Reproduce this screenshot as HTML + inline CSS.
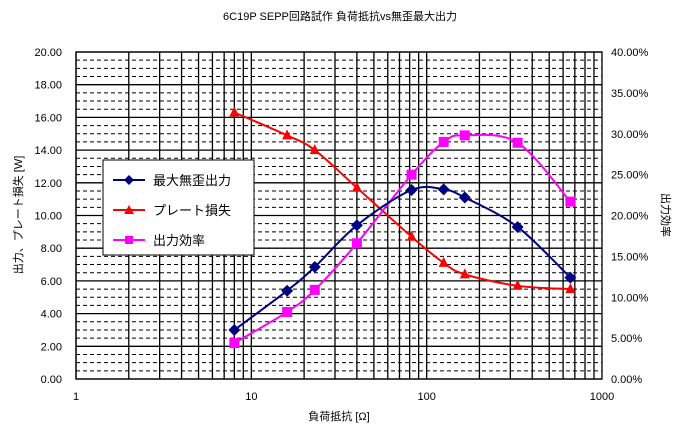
<!DOCTYPE html>
<html><head><meta charset="utf-8"><style>
body{margin:0;background:#fff;}
svg text{font-family:"Liberation Sans","Noto Sans CJK JP",sans-serif;font-size:11px;fill:#000;}
</style></head><body>
<svg id="chart" width="681" height="435">
<text x="340" y="20" text-anchor="middle">6C19P  SEPP回路試作  負荷抵抗vs無歪最大出力</text>
<g id="grid"></g>
<g id="axes"></g>
<g id="series"></g>
<text transform="translate(22,215) rotate(-90)" text-anchor="middle">出力、プレート損失 [W]</text>
<text transform="translate(662,215) rotate(90)" text-anchor="middle">出力効率</text>
<text x="339" y="420" text-anchor="middle">負荷抵抗 [Ω]</text>
<g>
<rect x="103" y="160" width="151" height="95" fill="#fff" stroke="#000"/>
<line x1="113" y1="180" x2="145" y2="180" stroke="#000080" stroke-width="2"/>
<path d="M129 175 L134 180 L129 185 L124 180Z" fill="#000080"/>
<text x="153" y="185" style="font-size:13px">最大無歪出力</text>
<line x1="113" y1="210" x2="145" y2="210" stroke="#f00" stroke-width="2"/>
<path d="M129 205 L134 214 L124 214Z" fill="#f00"/>
<text x="153" y="215" style="font-size:13px">プレート損失</text>
<line x1="113" y1="240" x2="145" y2="240" stroke="#f0f" stroke-width="2"/>
<rect x="125" y="236" width="8" height="8" fill="#f0f"/>
<text x="153" y="245" style="font-size:13px">出力効率</text>
</g>
</svg>
<script>
const loads=[8,16,23,40,82,125,165,330,660];
const maxOutput=[3.0,5.4,6.85,9.4,11.56,11.6,11.1,9.3,6.2];
const plateLoss=[16.3,14.9,14.0,11.7,8.7,7.1,6.4,5.7,5.5];
const efficiency=[4.4,8.2,10.9,16.6,25.0,29.0,29.8,28.9,21.7];
const yTicks=["0.00","2.00","4.00","6.00","8.00","10.00","12.00","14.00","16.00","18.00","20.00"];
const y2Ticks=["0.00%","5.00%","10.00%","15.00%","20.00%","25.00%","30.00%","35.00%","40.00%"];
const xTicks=[1,10,100,1000];
const L=76,R=602,T=52,B=379;
const NS="http://www.w3.org/2000/svg";
function xs(v){return L+(Math.log10(v)-0)/3*(R-L);}
function ys(v){return B-v/20*(B-T);}
function y2s(v){return B-v/40*(B-T);}
function mk(p,tag,a){const e=document.createElementNS(NS,tag);for(const k in a)e.setAttribute(k,a[k]);p.appendChild(e);return e;}
const grid=document.getElementById('grid'),axes=document.getElementById('axes'),ser=document.getElementById('series');
for(let v=0.5;v<20;v+=0.5){if(Math.abs(v%2)<1e-9)continue;const l=mk(grid,'line',{x1:L,x2:R,y1:ys(v),y2:ys(v),stroke:'#000','stroke-dasharray':'4,3'});

}
for(let d=0;d<3;d++)for(let m=1;m<=9;m++){const v=Math.pow(10,d)*m;const l=mk(grid,'line',{x1:xs(v),x2:xs(v),y1:T,y2:B,stroke:'#000','stroke-width':1.3});

}
yTicks.forEach((t,i)=>{const v=i*2;const l=mk(grid,'line',{x1:L,x2:R,y1:ys(v),y2:ys(v),stroke:'#000','stroke-width':1.3});


const tx=mk(axes,'text',{x:62,y:ys(v)+4,'text-anchor':'end'});tx.textContent=t;

});
y2Ticks.forEach((t,i)=>{const tx=mk(axes,'text',{x:611,y:y2s(i*5)+4});tx.textContent=t;

});
xTicks.forEach(v=>{const tx=mk(axes,'text',{x:xs(v),y:400,'text-anchor':'middle'});tx.textContent=v;

});
const fr=mk(axes,'rect',{x:L,y:T,width:R-L,height:B-T,fill:'none',stroke:'#000','stroke-width':1.3});


function smooth(pts){let d='M'+pts[0][0]+' '+pts[0][1];for(let i=0;i<pts.length-1;i++){const p0=pts[Math.max(0,i-1)],p1=pts[i],p2=pts[i+1],p3=pts[Math.min(pts.length-1,i+2)];
const c1=[p1[0]+(p2[0]-p0[0])/6,p1[1]+(p2[1]-p0[1])/6],c2=[p2[0]-(p3[0]-p1[0])/6,p2[1]-(p3[1]-p1[1])/6];d+=` C${c1} ${c2} ${p2}`;}return d;}
function series(vals,scale,color,shape,name){const pts=loads.map((x,i)=>[xs(x),scale(vals[i])]);
const p=mk(ser,'path',{d:smooth(pts),fill:'none',stroke:color,'stroke-width':2});


pts.forEach(([x,y])=>{let m;if(shape==='d')m=mk(ser,'path',{d:`M${x} ${y-6}L${x+6} ${y}L${x} ${y+6}L${x-6} ${y}Z`,fill:color});
else if(shape==='t')m=mk(ser,'path',{d:`M${x} ${y-6}L${x+5} ${y+4}L${x-5} ${y+4}Z`,fill:color});
else m=mk(ser,'rect',{x:x-5,y:y-5,width:10,height:10,fill:color});

});}
series(plateLoss,ys,'#ff0000','t','plate-loss');
series(efficiency,y2s,'#ff00ff','s','efficiency');
series(maxOutput,ys,'#000080','d','max-output');
</script>
</body></html>
